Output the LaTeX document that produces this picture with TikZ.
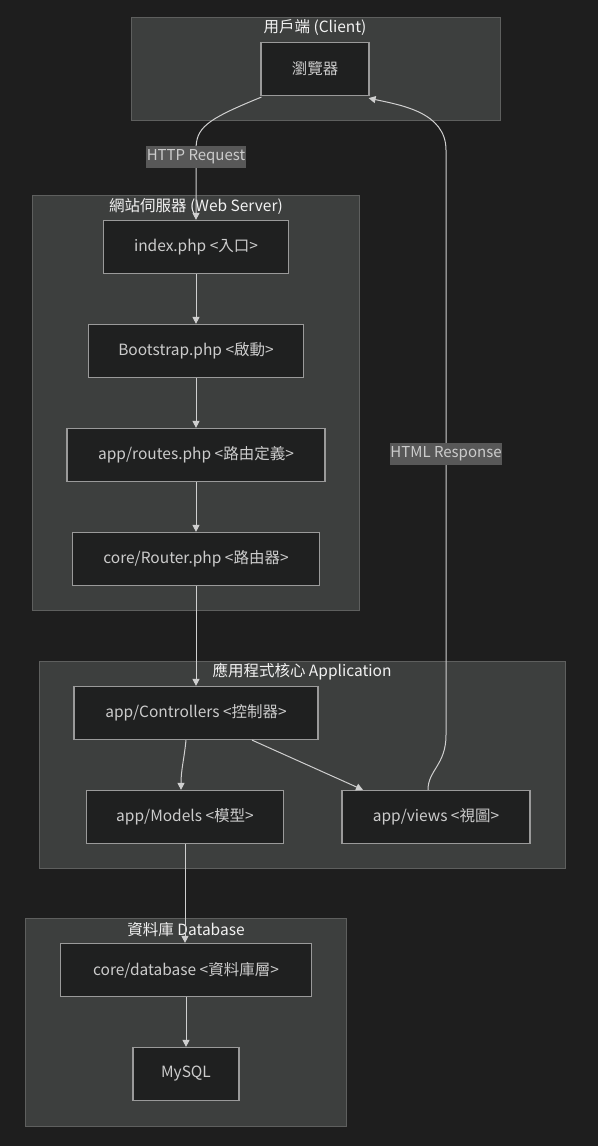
\documentclass[tikz,border=0pt]{standalone}
\usepackage{fontspec}
\setmainfont{Noto Sans CJK TC}
\usetikzlibrary{arrows.meta}
\definecolor{bgc}{HTML}{1E1E1E}
\definecolor{clfill}{HTML}{3D3F3E}
\definecolor{cldraw}{HTML}{5E5F5E}
\definecolor{ndfill}{HTML}{1F2020}
\definecolor{nddraw}{HTML}{9A9A9A}
\definecolor{ndtext}{HTML}{CCCCCC}
\definecolor{cltext}{HTML}{F2F2F2}
\definecolor{edgec}{HTML}{CFCFCF}
\definecolor{lblfill}{HTML}{585858}
\tikzset{
  cluster/.style={fill=clfill, draw=cldraw, line width=1pt},
  cltitle/.style={text=cltext, font=\fontsize{15.5}{17}\selectfont, inner sep=0pt},
  box/.style={rectangle, fill=ndfill, draw=nddraw, line width=1.2pt, text=ndtext,
    font=\fontsize{15.5}{17}\selectfont, minimum height=53pt, inner sep=0pt},
  edge/.style={draw=edgec, line width=1pt, -{Triangle[width=7pt,length=7pt]}},
  elabel/.style={fill=lblfill, text=ndtext, font=\fontsize{15}{17}\selectfont,
    inner xsep=0.5pt, inner ysep=2pt, minimum height=22pt}
}
\begin{document}
\begin{tikzpicture}[x=1pt,y=-1pt]
\fill[bgc] (0,0) rectangle (598,1146);
\useasboundingbox (0,0) rectangle (598,1146);
% clusters
\draw[cluster] (131,17) rectangle (500,120);
\node[cltitle] (tclient) at (315,28) {用戶端 (Client)};
\draw[cluster] (32,195) rectangle (359,610);
\node[cltitle] (tweb) at (196,206) {網站伺服器 (Web Server)};
\draw[cluster] (39,661) rectangle (565,868);
\node[cltitle] (tapp) at (302,672) {應用程式核心 Application};
\draw[cluster] (25,918) rectangle (346,1126);
\node[cltitle] (tdb) at (186,930) {資料庫 Database};
% nodes
\node[box, minimum width=108pt] (browser) at (315,69) {瀏覽器};
\node[box, minimum width=185pt] (index) at (196,247) {index.php <入口>};
\node[box, minimum width=215pt] (boot) at (196,351) {Bootstrap.php <啟動>};
\node[box, minimum width=258pt] (routes) at (196,455) {app/routes.php <路由定義>};
\node[box, minimum width=247pt] (router) at (196,559) {core/Router.php <路由器>};
\node[box, minimum width=244pt] (ctrl) at (196,713) {app/Controllers <控制器>};
\node[box, minimum width=197pt] (models) at (185,817) {app/Models <模型>};
\node[box, minimum width=188pt] (views) at (436,817) {app/views <視圖>};
\node[box, minimum width=251pt] (db) at (186,970) {core/database <資料庫層>};
\node[box, minimum width=106pt] (mysql) at (186,1074) {MySQL};
% edges
\draw[edge] ([xshift=1pt,yshift=-1pt]browser.south west) .. controls (205,120) and (196,128) .. (196,150) -- (index.north);
\draw[edge] ([xshift=-8pt]views.north) .. controls (428,770) and (446,765) .. (446,735) -- (446,150) .. controls (446,112) and (400,105) .. ([xshift=-1pt,yshift=-2pt]browser.south east);
\draw[edge] (index) -- (boot);
\draw[edge] (boot) -- (routes);
\draw[edge] (routes) -- (router);
\draw[edge] (router) -- (ctrl);
\draw[edge] ([xshift=-10pt]ctrl.south) .. controls (184,760) and (181,770) .. ([xshift=-4pt]models.north);
\draw[edge] ([xshift=56pt]ctrl.south) -- ([xshift=-73pt]views.north);
\draw[edge] (models.south) -- (models.south |- db.north);
\draw[edge] (db) -- (mysql);
% edge labels
\node[elabel] (lreq) at (196,157) {HTTP Request};
\node[elabel] (lresp) at (446,454) {HTML Response};
\end{tikzpicture}
\end{document}
